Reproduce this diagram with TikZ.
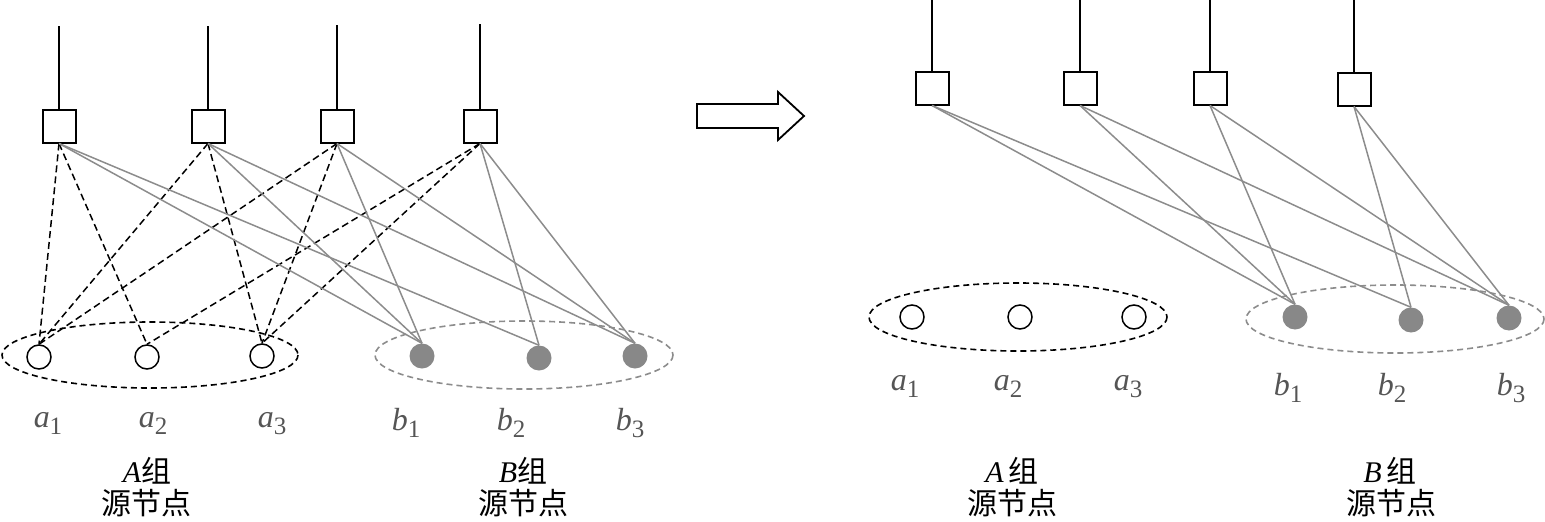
\documentclass[tikz,border=0pt]{standalone}
\usepackage{fontspec}
\setmainfont{Liberation Serif}
\newfontfamily\cjk{Noto Sans CJK SC}
\definecolor{edgegray}{HTML}{8C8C8C}
\definecolor{fillgray}{HTML}{888888}
\definecolor{labgray}{HTML}{555555}
\newcommand\lab[2]{\textit{#1}\raisebox{-7pt}{\fontsize{25}{25}\selectfont #2}}
\tikzset{
  relay/.style={draw, line width=2pt, minimum width=33pt, minimum height=33pt, inner sep=0pt},
  anode/.style={draw, circle, line width=1.5pt, minimum size=24pt, inner sep=0pt},
  bnode/.style={circle, fill=fillgray, minimum size=25pt, inner sep=0pt},
  feed/.style={line width=1.5pt},
  dashedge/.style={line width=1.5pt, dash pattern=on 7pt off 4pt},
  grayedge/.style={line width=1.5pt, edgegray},
  grpA/.style={line width=1.6pt, dash pattern=on 6pt off 4pt},
  grpB/.style={line width=1.6pt, edgegray, dash pattern=on 6pt off 4pt},
  nlab/.style={anchor=base, inner sep=0pt, text=labgray, font=\fontsize{32}{36}\selectfont},
  glab/.style={anchor=base, inner sep=0pt, font=\fontsize{30}{34}\selectfont},
}
\begin{document}
\begin{tikzpicture}[x=1pt,y=-1pt]
\useasboundingbox (0,0) rectangle (1545,522);
% ---------- left panel ----------
\draw[grpA] (150,355) ellipse [x radius=148, y radius=33];
\draw[grpB] (524,355) ellipse [x radius=149, y radius=34];
\node[relay] (Ls1) at (59,126) {};
\node[relay] (Ls2) at (208,126) {};
\node[relay] (Ls3) at (337,126) {};
\node[relay] (Ls4) at (480,126) {};
\coordinate (Lt1) at (59,26);
\coordinate (Lt2) at (208,26);
\coordinate (Lt3) at (337,25);
\coordinate (Lt4) at (480,24);
\foreach \i in {1,...,4} {\draw[feed] (Lt\i) -- (Ls\i.north);}
\node[anode] (La1) at (39,357) {};
\node[anode] (La2) at (147,357) {};
\node[anode] (La3) at (262,356) {};
\node[bnode] (Lb1) at (422,356) {};
\node[bnode] (Lb2) at (539,358) {};
\node[bnode] (Lb3) at (635,356) {};
\foreach \s/\t in {1/1,1/2,2/1,2/3,3/1,3/3,4/2,4/3}
  {\draw[dashedge] (Ls\s.south) -- (La\t.north);}
\foreach \s/\t in {1/1,1/2,2/1,2/3,3/1,3/3,4/2,4/3}
  {\draw[grayedge] (Ls\s.south) -- (Lb\t.north);}
\node[nlab] (Lla1) at (48,427) {\lab{a}{1}};
\node[nlab] (Lla2) at (153,427) {\lab{a}{2}};
\node[nlab] (Lla3) at (272,427) {\lab{a}{3}};
\node[nlab] (Llb1) at (406,430) {\lab{b}{1}};
\node[nlab] (Llb2) at (511,430) {\lab{b}{2}};
\node[nlab] (Llb3) at (630,430) {\lab{b}{3}};
\node[glab] (LgA) at (147,482) {\textit{A}{\cjk 组}};
\node[glab] (LgA2) at (146,514) {\cjk 源节点};
\node[glab] (LgB) at (523,482) {\textit{B}{\cjk 组}};
\node[glab] (LgB2) at (523,514) {\cjk 源节点};
% ---------- arrow ----------
\draw[line width=1.8pt] (697,104) -- (778,104) -- (778,92) -- (804,116) -- (778,140) -- (778,128) -- (697,128) -- cycle;
% ---------- right panel ----------
\draw[grpA] (1018,317) ellipse [x radius=149, y radius=34];
\draw[grpB] (1395,319) ellipse [x radius=149, y radius=34];
\node[relay] (Rs1) at (932,88) {};
\node[relay] (Rs2) at (1080,88) {};
\node[relay] (Rs3) at (1210,88) {};
\node[relay] (Rs4) at (1354,89) {};
\foreach \i in {1,...,4} {\coordinate (Rt\i) at (Rs\i.north |- 0,0); \draw[feed] (Rt\i) -- (Rs\i.north);}
\node[anode] (Ra1) at (912,317) {};
\node[anode] (Ra2) at (1020,317) {};
\node[anode] (Ra3) at (1134,317) {};
\node[bnode] (Rb1) at (1295,317) {};
\node[bnode] (Rb2) at (1411,320) {};
\node[bnode] (Rb3) at (1509,318) {};
\foreach \s/\t in {1/1,1/2,2/1,2/3,3/1,3/3,4/2,4/3}
  {\draw[grayedge] (Rs\s.south) -- (Rb\t.north);}
\node[nlab] (Rla1) at (905,390) {\lab{a}{1}};
\node[nlab] (Rla2) at (1008,390) {\lab{a}{2}};
\node[nlab] (Rla3) at (1128,390) {\lab{a}{3}};
\node[nlab] (Rlb1) at (1288,395) {\lab{b}{1}};
\node[nlab] (Rlb2) at (1392,395) {\lab{b}{2}};
\node[nlab] (Rlb3) at (1511,395) {\lab{b}{3}};
\node[glab] (RgA) at (1012,482) {\textit{A}\,{\cjk 组}};
\node[glab] (RgA2) at (1012,514) {\cjk 源节点};
\node[glab] (RgB) at (1390,482) {\textit{B}\,{\cjk 组}};
\node[glab] (RgB2) at (1391,514) {\cjk 源节点};
\end{tikzpicture}
\end{document}
